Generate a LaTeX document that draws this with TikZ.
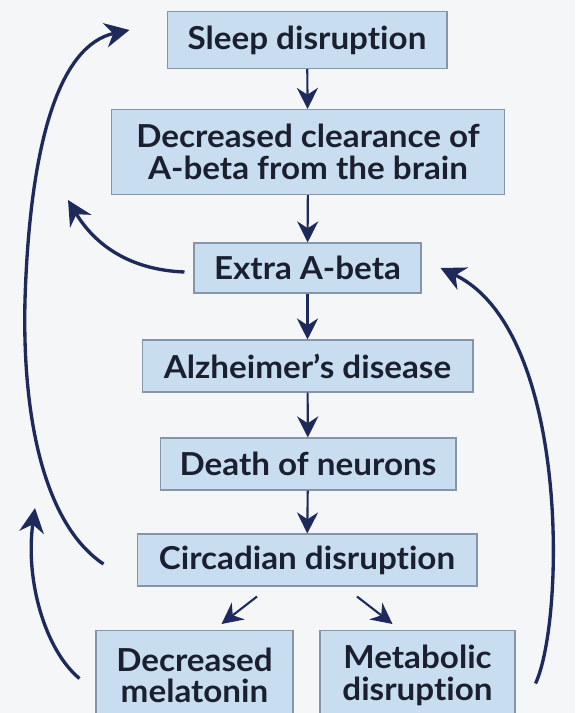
\documentclass[tikz,border=0pt]{standalone}
\usepackage{fontspec}
\setmainfont{Lato}[Ligatures=NoCommon, FakeStretch=1.05]
\usetikzlibrary{arrows.meta,calc}
\definecolor{bgcol}{HTML}{F5F6F7}
\definecolor{boxfill}{HTML}{C9DDF1}
\definecolor{boxline}{HTML}{8596A8}
\definecolor{navy}{HTML}{1F2A5C}
\definecolor{inkcol}{HTML}{1B2030}
\tikzset{
	stepbox/.style={draw=boxline, fill=boxfill, line width=0.6pt, text=inkcol,
		font=\fontsize{18}{18}\selectfont\bfseries, align=center,
		minimum height=1.04cm, inner xsep=0pt},
	flow/.style={navy, line width=1.2pt, -{Stealth[length=12pt,width=12pt]}},
	loop/.style={navy, line width=1.9pt, -{Stealth[length=14pt,width=14pt]}}
}
\begin{document}
\begin{tikzpicture}[x=0.02cm, y=-0.02cm]
		\fill[bgcol] (0,0) rectangle (575,713);
		\clip (0,0) rectangle (575,713);
		% main chain
		\node[stepbox, minimum width=5.6cm, minimum height=1.14cm] (sleep) at (307,40) {Sleep disruption};
		\node[stepbox, minimum width=7.88cm, minimum height=1.7cm] (clear) at (308,152)
			{Decreased clearance of\\A-beta from the brain};
		\node[stepbox, minimum width=4.54cm, minimum height=1.0cm] (extra) at (307.5,268) {Extra A-beta};
		\node[stepbox, minimum width=6.62cm] (alz) at (307.5,366) {Alzheimer’s disease};
		\node[stepbox, minimum width=5.92cm] (death) at (308,464) {Death of neurons};
		\node[stepbox, minimum width=6.8cm] (circ) at (307,560) {Circadian disruption};
		\node[stepbox, minimum width=3.94cm, minimum height=1.8cm, anchor=north] (mel) at (194.5,630)
			{Decreased\\melatonin};
		\node[stepbox, minimum width=3.9cm, minimum height=1.8cm, anchor=north] (met) at (417.5,630)
			{Metabolic\\disruption};
		\draw[flow] (sleep) -- (clear);
		\draw[flow] (clear) -- (extra);
		\draw[flow] (extra) -- (alz);
		\draw[flow] (alz) -- (death);
		\draw[flow] (death) -- (circ);
		\draw[flow] ($(circ.south)+(-50,10)$) -- ($(mel.north)+(27,-6)$);
		\draw[flow] ($(circ.south)+(50,10)$) -- ($(met.north)+(-25,-6)$);
		% feedback loops
		\draw[loop] ($(circ.west)+(-33,4)$) .. controls (45,525) and (22,420) .. (25,300)
			.. controls (30,140) and (60,45) .. ($(sleep.west)+(-37,-10)$);
		\draw[loop] ($(extra.west)+(-9,4)$) .. controls (130,270) and (95,245) .. (68,200);
		\draw[loop] ($(mel.west)+(-16,3)$) .. controls (45,650) and (25,580) .. (35,508);
		\draw[loop] ($(met.east)+(20,8)$) .. controls (565,620) and (570,330) .. ($(extra.east)+(19,0)$);
	\end{tikzpicture}
\end{document}
